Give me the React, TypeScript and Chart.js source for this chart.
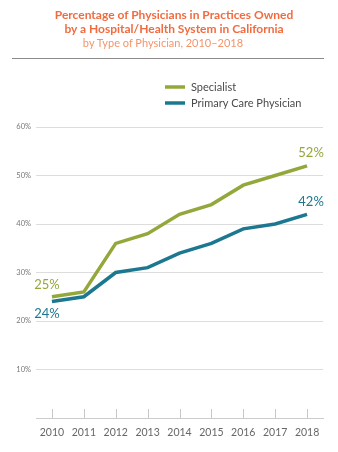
import React, { useEffect, useRef } from "react";
import { Chart, registerables } from "chart.js";

Chart.register(...registerables);

const years = ["2010", "2011", "2012", "2013", "2014", "2015", "2016", "2017", "2018"];
const specialist = [25, 26, 36, 38, 42, 44, 48, 50, 52];
const primaryCare = [24, 25, 30, 31, 34, 36, 39, 40, 42];
const yTicks = [10, 20, 30, 40, 50, 60];
const seriesNames = ["Specialist", "Primary Care Physician"];

const GREEN = "#93A83B";
const TEAL = "#1B7890";
const FONT = "Lato, 'Open Sans', sans-serif";

const overlayPlugin = {
  id: "overlay",
  afterDatasetsDraw(chart: any) {
    const { ctx, scales, chartArea } = chart;
    const x = scales.x;
    const y = scales.y;
    ctx.save();
    // small tick marks above the axis
    ctx.strokeStyle = "#c8c8c8";
    ctx.lineWidth = 1;
    years.forEach((_, i) => {
      const px = Math.round(x.getPixelForValue(i)) + 0.5;
      ctx.beginPath();
      ctx.moveTo(px, chartArea.bottom - 9);
      ctx.lineTo(px, chartArea.bottom);
      ctx.stroke();
    });
    // end labels
    ctx.font = `13px ${FONT}`;
    ctx.textBaseline = "middle";
    ctx.textAlign = "center";
    const n = years.length - 1;
    const x0 = x.getPixelForValue(0);
    const xn = x.getPixelForValue(n);
    ctx.fillStyle = GREEN;
    ctx.fillText(`${specialist[0]}%`, x0 - 5, y.getPixelForValue(specialist[0]) - 12);
    ctx.fillText(`${specialist[n]}%`, xn + 4, y.getPixelForValue(specialist[n]) - 13);
    ctx.fillStyle = TEAL;
    ctx.fillText(`${primaryCare[0]}%`, x0 - 5, y.getPixelForValue(primaryCare[0]) + 12);
    ctx.fillText(`${primaryCare[n]}%`, xn + 4, y.getPixelForValue(primaryCare[n]) - 12);

    // legend
    const items = [
      { label: seriesNames[0], color: GREEN, y: 87 },
      { label: seriesNames[1], color: TEAL, y: 103 },
    ];
    ctx.textAlign = "left";
    ctx.font = `11px ${FONT}`;
    items.forEach((it) => {
      ctx.strokeStyle = it.color;
      ctx.lineWidth = 3.5;
      ctx.beginPath();
      ctx.moveTo(165, it.y);
      ctx.lineTo(185, it.y);
      ctx.stroke();
      ctx.fillStyle = "#4a4a4a";
      ctx.fillText(it.label, 191, it.y + 0.5);
    });
    ctx.restore();
  },
};

export default function App() {
  const ref = useRef<HTMLCanvasElement>(null);
  useEffect(() => {
    document.body.style.margin = "0";
    const chart = new Chart(ref.current as HTMLCanvasElement, {
      type: "line",
      data: {
        labels: years,
        datasets: [
          {
            label: seriesNames[0],
            data: specialist,
            borderColor: GREEN,
            backgroundColor: GREEN,
            borderWidth: 3.5,
            pointRadius: 0,
            tension: 0,
          },
          {
            label: seriesNames[1],
            data: primaryCare,
            borderColor: TEAL,
            backgroundColor: TEAL,
            borderWidth: 3.5,
            pointRadius: 0,
            tension: 0,
          },
        ],
      },
      options: {
        animation: false,
        responsive: false,
        layout: { padding: { top: 127, right: 15, left: 0, bottom: 0 } },
        plugins: {
          legend: { display: false },
          tooltip: { enabled: false },
          title: { display: false },
        },
        scales: {
          x: {
            offset: true,
            grid: { display: false, drawTicks: false },
            border: { display: true, color: "#cccccc" },
            ticks: {
              color: "#666666",
              font: { family: FONT, size: 10.5 },
              padding: 8,
              maxRotation: 0,
            },
            afterFit: (s: any) => {
              s.height = 34;
            },
          },
          y: {
            min: 0,
            max: 60,
            afterBuildTicks: (s: any) => {
              s.ticks = [0, ...yTicks].map((v) => ({ value: v }));
            },
            grid: { color: "#dddddd", drawTicks: false },
            border: { display: false },
            ticks: {
              color: "#777777",
              font: { family: FONT, size: 7.5 },
              padding: 5,
              callback: (v: any) => (v === 0 ? "" : `${v}%`),
            },
            afterFit: (s: any) => {
              s.width = 36;
            },
          },
        },
      },
      plugins: [overlayPlugin],
    });
    return () => chart.destroy();
  }, []);

  return (
    <div style={{ position: "relative", width: 338, height: 452, background: "#fff" }}>
      <div
        style={{
          position: "absolute",
          top: 8,
          left: 0,
          width: 348,
          textAlign: "center",
          fontFamily: FONT,
          color: "#F26B3F",
          fontWeight: 700,
          fontSize: 12,
          lineHeight: "14px",
        }}
      >
        Percentage of Physicians in Practices Owned
        <br />
        by a Hospital/Health System in California
      </div>
      <div
        style={{
          position: "absolute",
          top: 36,
          left: 0,
          width: 326,
          textAlign: "center",
          fontFamily: FONT,
          color: "#F4946A",
          fontSize: 11,
          lineHeight: "14px",
        }}
      >
        by Type of Physician, 2010–2018
      </div>
      <div
        style={{
          position: "absolute",
          top: 58,
          left: 12,
          width: 312,
          height: 1,
          background: "#8a8a8a",
        }}
      />
      <canvas ref={ref} width={338} height={452} style={{ display: "block" }} />
    </div>
  );
}
